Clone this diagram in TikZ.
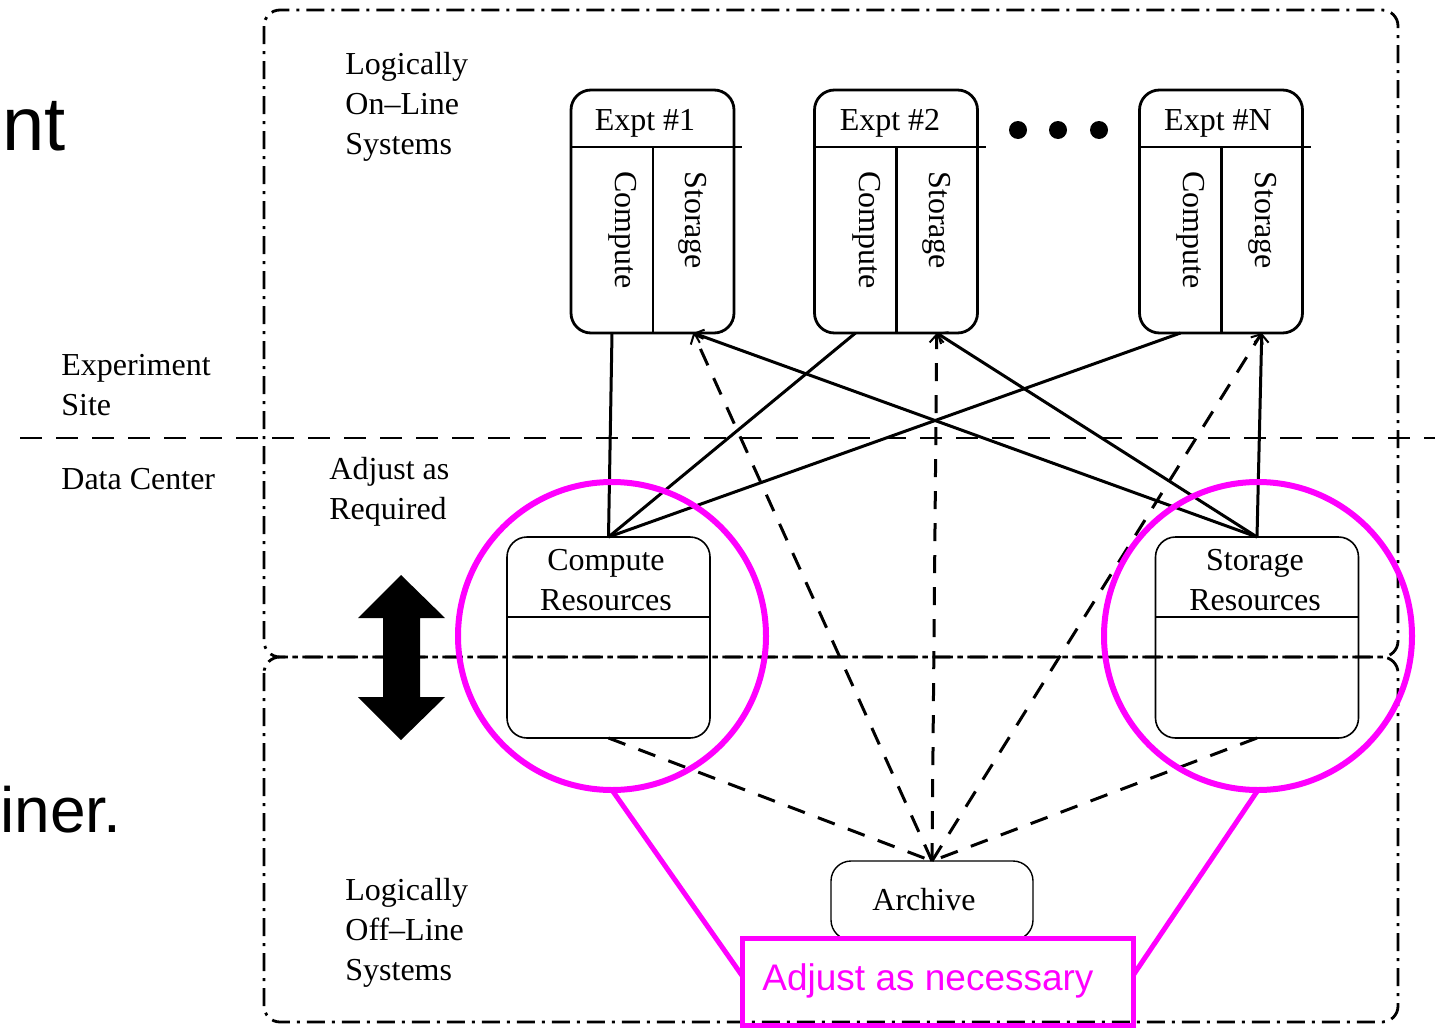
\documentclass[tikz,border=0pt]{standalone}
\usepackage{fontspec}
\setmainfont{Liberation Serif}
\newfontfamily\arialf{Liberation Sans}
\usetikzlibrary{arrows.meta,calc,shapes.geometric}
\definecolor{mag}{RGB}{255,0,255}
\tikzset{
  lbl/.style={font=\fontsize{16}{20}\selectfont, align=left, inner sep=0pt, anchor=west},
  exptbox/.style={draw, line width=1.4pt, rounded corners=10pt, minimum width=81.5pt, minimum height=121.5pt, inner sep=0, outer sep=0},
  col/.style={minimum width=41pt, minimum height=93pt, inner sep=0, outer sep=0},
  coltext/.style={font=\fontsize{16}{20}\selectfont, rotate=-90, anchor=west, inner sep=0pt},
  hdrtext/.style={font=\fontsize{16}{20}\selectfont, inner sep=0pt},
  resbox/.style={draw, line width=0.8pt, rounded corners=10pt, minimum width=101.5pt, minimum height=100.5pt, inner sep=0, outer sep=0},
  arcbox/.style={draw, line width=0.7pt, rounded corners=10pt, minimum width=101pt, minimum height=39.5pt, inner sep=0, outer sep=0},
  conn/.style={line width=1.5pt},
  dconn/.style={line width=1.5pt, dash pattern=on 9pt off 7pt},
  tip/.style={-{Straight Barb[length=4pt,width=7pt,line width=1pt]}},
  region/.style={line width=1.4pt, rounded corners=8pt, dash pattern=on 9pt off 3.5pt on 1.5pt off 3.5pt},
  magc/.style={circle, draw=mag, line width=3pt, minimum size=154pt, inner sep=0, outer sep=0},
  magl/.style={draw=mag, line width=2.5pt},
}
\begin{document}
\begin{tikzpicture}[x=0.5pt,y=-0.5pt]
\useasboundingbox (0,0) rectangle (1435,1028);

% cut-off slide text
\node[font=\arialf\fontsize{38}{42}\selectfont, anchor=base west, inner sep=0] (nt) at (2,150) {nt};
\node[font=\arialf\fontsize{32}{38}\selectfont, anchor=base west, inner sep=0] (iner) at (0,832) {iner.};

% regions
\draw[region] (264,10) rectangle (1398,657);
\draw[region] (264,657) rectangle (1398,1022);
\draw[line width=1.4pt, dash pattern=on 11pt off 7pt] (20,438) -- (1435,438);

% labels
\node[lbl] (los) at (345,107) {Logically\\On--Line\\Systems};
\node[lbl] (lfs) at (345,933) {Logically\\Off--Line\\Systems};
\node[lbl] (es) at (61,385) {Experiment\\Site};
\node[lbl] (dc) at (61,479) {Data Center};
\node[lbl] (ar) at (329,492) {Adjust as\\Required};

% experiment boxes
\foreach \n/\cx/\ctx/\stx in {e1/652.5/623/693, e2/896/867/937, eN/1221/1191/1263}{
  \node[exptbox] (\n) at (\cx,211.5) {};
  \node[col] (\n c) at (\cx-40.5,240) {};
  \node[col] (\n s) at (\cx+40.75,240) {};
  \draw[line width=1.4pt] ($(\n.north west)+(0,57)$) -- ++(171,0);
  \draw[line width=1.4pt] (\n c.north east) -- (\n c.south east);
  \node[coltext] at (\ctx,171) {Compute};
  \node[coltext] at (\stx,171) {Storage};
}
\node[hdrtext] (h1) at (645,123) {Expt \#1};
\node[hdrtext] (h2) at (890,123) {Expt \#2};
\node[hdrtext] (hN) at (1218,123) {Expt \#N};

% dots
\foreach \x in {1018,1058,1099}{
  \fill (\x,130) circle (4.5pt);
}

% resources
\node[resbox] (cr) at (608.5,637.5) {};
\draw[line width=0.8pt] ($(cr.north west)+(0,80)$) -- ($(cr.north east)+(0,80)$);
\node[hdrtext, align=center] (crt) at (606,580) {Compute\\Resources};
\node[resbox] (sr) at (1257,637.5) {};
\draw[line width=0.8pt] ($(sr.north west)+(0,80)$) -- ($(sr.north east)+(0,80)$);
\node[hdrtext, align=center] (srt) at (1255,580) {Storage\\Resources};

% archive
\node[arcbox] (arc) at (932,900.5) {};
\node[hdrtext] (arct) at (924,900) {Archive};

% solid connectors
\draw[conn] (e1c.south) -- (cr.north);
\draw[conn] (e2c.south) -- (cr.north);
\draw[conn] (eNc.south) -- (cr.north);
\draw[conn,tip] (sr.north) -- (e1s.south);
\draw[conn,tip] (sr.north) -- (e2s.south);
\draw[conn,tip] (sr.north) -- (eNs.south);

% dashed connectors
\draw[dconn,tip] (arc.north) -- (e1s.south);
\draw[dconn,tip] (arc.north) -- (e2s.south);
\draw[dconn,tip] (arc.north) -- (eNs.south);
\draw[dconn] (cr.south) -- (arc.north);
\draw[dconn] (sr.south) -- (arc.north);

% double arrow
\fill (401,575) -- (445,618) -- (420,618) -- (420,697) -- (445,697) -- (401,740)
  -- (358,697) -- (383,697) -- (383,618) -- (358,618) -- cycle;

% magenta highlights
\node[magc] (cc) at (612,636) {};
\node[magc] (sc) at (1258,636) {};
\node[draw=mag, line width=2.5pt, minimum width=195.5pt, minimum height=43.5pt, inner sep=0, outer sep=0] (adj) at (937.5,981.5) {};
\node[font=\arialf\fontsize{18.5}{22}\selectfont, text=mag, inner sep=0] (adjt) at (928,981) {Adjust as necessary};
\draw[magl] (cc.south) -- ($(adj.west)+(0,-6)$);
\draw[magl] (sc.south) -- ($(adj.east)+(0,-6)$);
\end{tikzpicture}
\end{document}
